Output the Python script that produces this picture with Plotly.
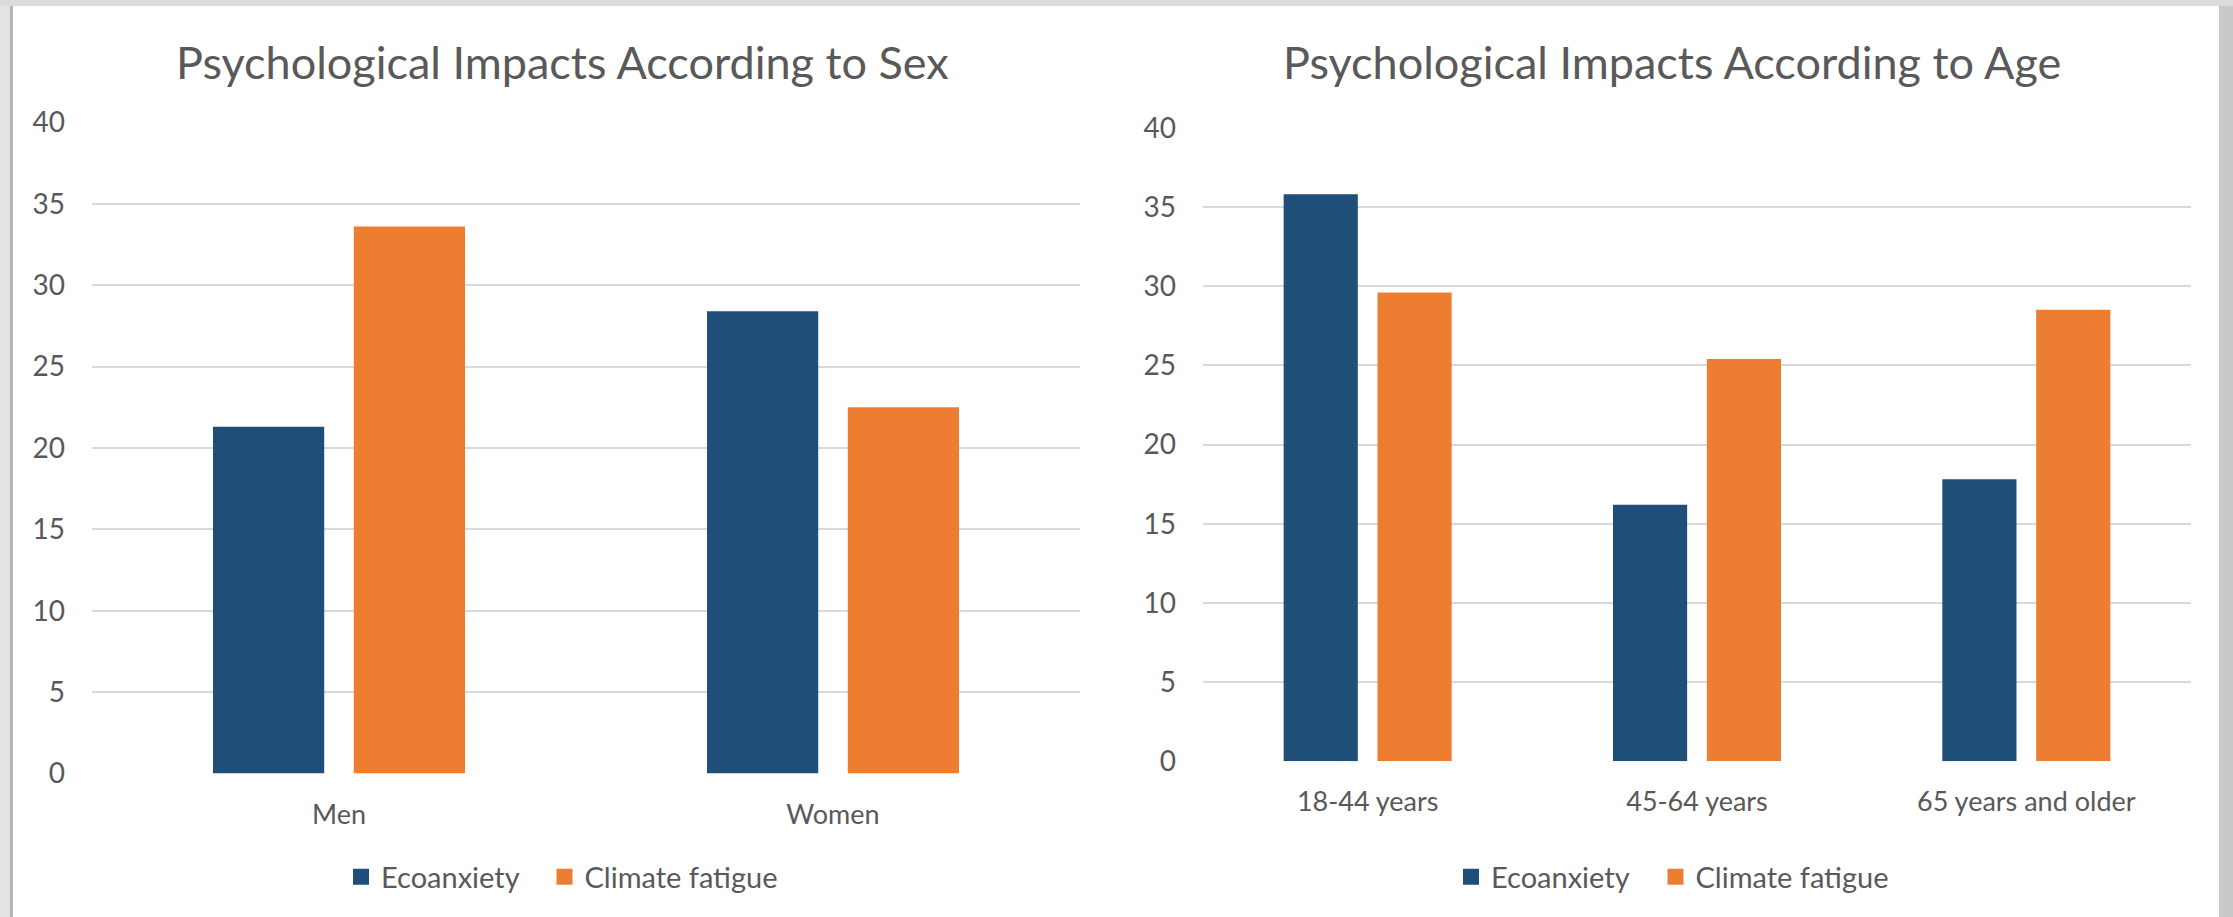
import plotly.graph_objects as go

sex_categories = ["Men", "Women"]
sex_ecoanxiety = [21.3, 28.4]
sex_climate_fatigue = [33.6, 22.5]

age_categories = ["18-44 years", "45-64 years", "65 years and older"]
age_ecoanxiety = [35.8, 16.2, 17.8]
age_climate_fatigue = [29.6, 25.4, 28.5]

series_names = ["Ecoanxiety", "Climate fatigue"]
titles = ["Psychological Impacts According to Sex", "Psychological Impacts According to Age"]
y_ticks = [0, 5, 10, 15, 20, 25, 30, 35, 40]

NAVY = "#1F4E79"
ORANGE = "#ED7D31"
GRAY = "#595959"
GRID = "#D9D9D9"
FONT = "Lato"
series_colors = [NAVY, ORANGE]

W, H = 2233, 917

fig = go.Figure()
panels = [
    (sex_categories, [sex_ecoanxiety, sex_climate_fatigue], "x", "y", ["legend", "legend3"]),
    (age_categories, [age_ecoanxiety, age_climate_fatigue], "x2", "y2", ["legend2", "legend4"]),
]
for cats, series, xa, ya, lgs in panels:
    for name, vals, col in zip(series_names, series, series_colors):
        fig.add_trace(go.Bar(x=cats, y=vals, name=name, showlegend=False,
                             marker=dict(color=col, line=dict(width=0)), xaxis=xa, yaxis=ya))
    # legend entries (square swatches), one legend box per entry for exact spacing
    for name, col, lg in zip(series_names, series_colors, lgs):
        fig.add_trace(go.Scatter(x=[None], y=[None], mode="markers", name=name,
                                 marker=dict(symbol="square", size=16, color=col),
                                 xaxis=xa, yaxis=ya, legend=lg, hoverinfo="skip"))


def px_x(p):
    return p / W


def px_y(p):
    return 1 - p / H


yaxis_common = dict(range=[0, 40], tickvals=y_ticks, showgrid=True, gridcolor=GRID, gridwidth=1.5,
                    zeroline=False, showline=False, ticks="", ticklabelstandoff=26, automargin=False,
                    tickfont=dict(family=FONT, size=28, color=GRAY), fixedrange=True)
xaxis_common = dict(showgrid=False, zeroline=False, showline=False, ticks="", ticklabelstandoff=22,
                    automargin=False,
                    tickfont=dict(family=FONT, size=27, color=GRAY), fixedrange=True)

legend_common = dict(orientation="h", xanchor="center", yanchor="middle",
                     font=dict(family=FONT, size=29, color=GRAY), bgcolor="rgba(0,0,0,0)",
                     itemwidth=30, tracegroupgap=0)

fig.update_layout(
    width=W, height=H,
    margin=dict(l=0, r=0, t=0, b=0, pad=0, autoexpand=False),
    paper_bgcolor="white", plot_bgcolor="white",
    barmode="group", bargap=0.43, bargroupgap=0.21,
    xaxis=dict(domain=[px_x(92), px_x(1080)], anchor="y", **xaxis_common),
    yaxis=dict(domain=[px_y(773.5), px_y(122.3)], anchor="x", **yaxis_common),
    xaxis2=dict(domain=[px_x(1203), px_x(2191)], anchor="y2", **xaxis_common),
    yaxis2=dict(domain=[px_y(761.3), px_y(127.7)], anchor="x2", **yaxis_common),
    legend=dict(x=px_x(433), y=px_y(877), **legend_common),
    legend3=dict(x=px_x(664), y=px_y(877), **legend_common),
    legend2=dict(x=px_x(1543), y=px_y(877), **legend_common),
    legend4=dict(x=px_x(1775), y=px_y(877), **legend_common),
    showlegend=True,
)

for title, cx in zip(titles, [562, 1672]):
    fig.add_annotation(text=title, x=px_x(cx), y=px_y(62), xref="paper", yref="paper",
                       xanchor="center", yanchor="middle", showarrow=False,
                       font=dict(family=FONT, size=45, color=GRAY))

# window frame (gray border/shadow like the screenshot)
fig.add_shape(type="rect", xref="paper", yref="paper", x0=0, x1=px_x(10), y0=0, y1=1,
              fillcolor="#E3E3E3", line=dict(width=0), layer="above")
fig.add_shape(type="rect", xref="paper", yref="paper", x0=px_x(10), x1=px_x(13), y0=0, y1=1,
              fillcolor="#B5B5B5", line=dict(width=0), layer="above")
fig.add_shape(type="rect", xref="paper", yref="paper", x0=0, x1=1, y0=px_y(6), y1=1,
              fillcolor="#DCDCDC", line=dict(width=0), layer="above")
fig.add_shape(type="rect", xref="paper", yref="paper", x0=px_x(2219), x1=1, y0=0, y1=px_y(6),
              fillcolor="#C8C8C8", line=dict(width=0), layer="above")

fig.write_html("out.html")
